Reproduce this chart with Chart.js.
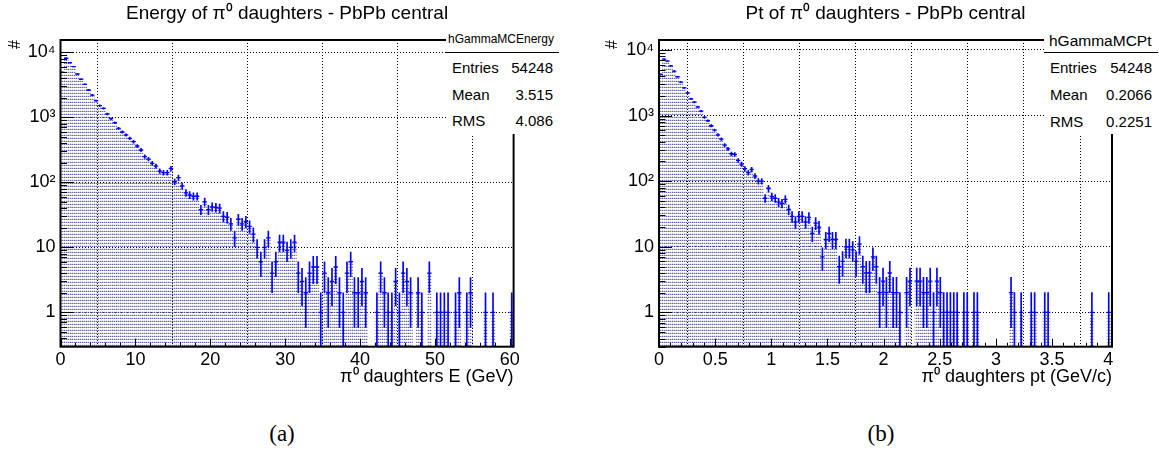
<!DOCTYPE html>
<html><head><meta charset="utf-8">
<script src="https://cdn.jsdelivr.net/npm/chart.js@4.4.1/dist/chart.umd.min.js"></script>
<style>
html,body{margin:0;padding:0;background:#fff}
body{width:1159px;height:454px;position:relative;overflow:hidden;font-family:'Liberation Sans',Arial,sans-serif;color:#000}
canvas{position:absolute;top:0}
.stat{position:absolute;background:#fff}
.stat div{position:absolute;white-space:nowrap}
.sep{height:1px;background:#000}
.row{font-size:15px;line-height:18px}
.lab{position:absolute;text-align:center;font-family:'Liberation Serif','Times New Roman',serif;font-size:23px;line-height:26px;width:60px}
</style></head><body>
<canvas id="cE" width="580" height="390" style="left:0"></canvas>
<canvas id="cP" width="579" height="390" style="left:580px"></canvas>

<div class="stat" style="left:446px;top:28px;width:114px;height:106px">
  <div style="left:2px;top:4px;font-size:12px;line-height:14px">hGammaMCEnergy</div>
  <div class="sep" style="left:0;top:24px;width:113px"></div>
  <div class="row" style="left:6px;top:30.7px">Entries</div><div class="row" style="right:7px;top:30.7px">54248</div>
  <div class="row" style="left:6px;top:58px">Mean</div><div class="row" style="right:7px;top:58px">3.515</div>
  <div class="row" style="left:6px;top:84px">RMS</div><div class="row" style="right:7px;top:84px">4.086</div>
</div>
<div class="stat" style="left:1044px;top:28px;width:115px;height:106px">
  <div style="left:5px;top:4px;font-size:15.5px;line-height:18px">hGammaMCPt</div>
  <div class="sep" style="left:0;top:24px;width:114px"></div>
  <div class="row" style="left:6px;top:30.7px">Entries</div><div class="row" style="right:7px;top:30.7px">54248</div>
  <div class="row" style="left:6px;top:58px">Mean</div><div class="row" style="right:7px;top:58px">0.2066</div>
  <div class="row" style="left:6px;top:84.7px">RMS</div><div class="row" style="right:7px;top:84.7px">0.2251</div>
</div>
<div class="lab" style="left:252px;top:421px">(a)</div>
<div class="lab" style="left:851px;top:421px">(b)</div>

<script>
// ---- data ----
const energyBinWidth = 0.5;   // GeV
const energyCounts = [
 4920,8090,6920,6010,4630,3850,3220,2630,2200,1800,
 1510,1375,1125,951,826,677,594,535,475,422,
 362,314,248,228,196,178,149,141,141,164,
 102,118,88,69,64,61,61,38,50,38,
 42,41,40,30,29,23,14,27,23,25,
 21,16,10,6,10,14,4,6,12,12,
 9,10,12,4,3,2,4,5,5,1,
 4,2,3,5,2,1,4,6,2,2,
 3,2,0,0,1,4,2,1,1,3,
 1,4,3,2,0,2,1,0,4,0,
 1,1,1,1,0,1,2,0,1,2,
 0,0,0,1,0,1,0,0,0,0,
 1];
const ptBinWidth = 0.03;      // GeV/c
const ptCounts = [
 4250,7260,6770,5740,4770,3910,3240,2650,2220,1800,
 1605,1360,1170,940,834,700,601,509,438,355,
 312,262,256,207,182,155,135,151,120,100,
 100,55,78,58,55,48,46,53,37,29,
 24,29,29,24,28,16,23,20,7,13,
 16,13,13,5,6,10,10,9,6,11,
 5,4,4,7,5,2,3,2,4,2,
 2,1,0,2,3,0,3,3,2,2,
 3,1,3,2,1,1,1,1,1,0,
 1,1,0,1,1,0,0,0,0,0,
 0,0,0,0,2,1,0,1,0,0,
 1,1,0,0,1,1,0,0,0,0,
 0,0,0,0,0,0,0,0,1,0,
 0,0,0,1];
const energyTickValues = [0,10,20,30,40,50,60];
const energyTickLabels = ['0','10','20','30','40','50','60'];
const ptTickValues = [0,0.5,1,1.5,2,2.5,3,3.5,4];
const ptTickLabels = ['0','0.5','1','1.5','2','2.5','3','3.5','4'];
const yTickValues = [1,10,100,1000,10000];
const yTickLabels = ['1','10','10\u00B2','10\u00B3','10\u2074'];

// ---- drawing ----
const FONT = "'Liberation Sans', Arial, sans-serif";
function makePattern(ctx){
  const pc = document.createElement('canvas');
  pc.width = 2; pc.height = 3;
  const c = pc.getContext('2d');
  c.fillStyle = 'rgba(75,80,170,0.85)'; c.fillRect(0,0,1,1);
  c.fillStyle = 'rgba(100,100,160,0.4)'; c.fillRect(1,0,1,1);
  c.fillStyle = 'rgba(110,110,140,0.2)'; c.fillRect(0,2,1,1);
  return ctx.createPattern(pc,'repeat');
}

const rootAxes = {
  id: 'rootAxes',
  afterDatasetsDraw(chart, args, o) {
    const {ctx, chartArea: a} = chart;
    const xs = chart.scales.x, ys = chart.scales.y;
    ctx.save();
    ctx.strokeStyle = '#000';
    ctx.lineWidth = 1;
    ctx.beginPath();
    const n = Math.floor((xs.max - xs.min) / o.xMinorStep + 1e-6);
    for (let i = 0; i <= n; i++) {
      const v = xs.min + i * o.xMinorStep;
      const px = Math.round(xs.getPixelForValue(v)) + 0.5;
      const r = v / o.xMajorStep;
      const len = Math.abs(r - Math.round(r)) < 1e-6 ? o.xMajorLen : o.xMinorLen;
      ctx.moveTo(px, a.bottom); ctx.lineTo(px, a.bottom - len);
    }
    for (let d = -1; d <= 5; d++) for (let k = 1; k <= 9; k++) {
      const v = k * Math.pow(10, d);
      if (v < ys.min || v > ys.max) continue;
      const py = Math.round(ys.getPixelForValue(v)) + 0.5;
      ctx.moveTo(a.left, py); ctx.lineTo(a.left + (k === 1 ? o.yMajorLen : o.yMinorLen), py);
    }
    ctx.stroke();
    ctx.lineWidth = 2;
    ctx.strokeRect(a.left, a.top, a.right - a.left, a.bottom - a.top);
    ctx.restore();
  }
};

function build(id, p) {
  const canvas = document.getElementById(id);
  const ctx = canvas.getContext('2d');
  const fill = [], errs = [], marks = [];
  p.counts.forEach((c, i) => {
    if (!c) return;
    const x = (i + 0.5) * p.binWidth;
    const e = Math.sqrt(c);
    fill.push({x, y: [p.ymin, c]});
    errs.push({x, y: [Math.max(p.ymin, c - e), c + e]});
    marks.push({x, y: c});
  });
  return new Chart(ctx, {
    type: 'bar',
    data: { datasets: [
      { type: 'bar', data: fill, backgroundColor: makePattern(ctx), borderWidth: 0,
        barPercentage: 1, categoryPercentage: 1, grouped: false, order: 3 },
      { type: 'bar', data: errs, backgroundColor: '#0000ff', borderWidth: 0,
        barThickness: 1, grouped: false, order: 2 },
      { type: 'line', data: marks, showLine: false, pointStyle: 'line', pointRadius: 2.2,
        pointBorderColor: '#0000ff', pointBorderWidth: 1.3, order: 1 }
    ]},
    options: {
      responsive: false, animation: false, events: [],
      layout: { padding: { left: 0, right: p.padRight, top: 0, bottom: 0 } },
      plugins: {
        legend: { display: false }, tooltip: { enabled: false },
        title: { display: true, text: p.title, fullSize: false, color: '#000',
          font: { family: FONT, size: 19, weight: 'normal', lineHeight: 1.2 },
          padding: { top: 2.6, bottom: 14.6 } },
        rootAxes: { xMinorStep: p.xMinorStep, xMajorStep: p.xMajorStep, xMajorLen: 8, xMinorLen: 4,
          yMajorLen: 13, yMinorLen: 6.5 }
      },
      scales: {
        x: { type: 'linear', min: 0, max: p.xmax, offset: false, bounds: 'data',
          afterBuildTicks: s => { s.ticks = p.tickValues.map(v => ({value: v})); },
          afterFit: s => { s.height = 43.3; },
          ticks: { autoSkip: false, maxRotation: 0, padding: 2.5, color: '#000',
            font: { family: FONT, size: 18 },
            callback: (v, i) => p.tickLabels[i] },
          grid: { drawTicks: false, color: '#000', lineWidth: 1 },
          border: { display: false, dash: [1, 2] },
          title: { display: true, text: p.xTitle, align: 'end', color: '#000',
            font: { family: FONT, size: 18 }, padding: { top: 0, bottom: 2.2 } } },
        y: { type: 'logarithmic', min: p.ymin, max: p.ymax, bounds: 'data',
          afterBuildTicks: s => { s.ticks = yTickValues.map(v => ({value: v})); },
          afterFit: s => { s.width = p.yWidth; },
          ticks: { autoSkip: false, padding: 5, color: '#000',
            font: { family: FONT, size: 18 },
            callback: (v, i) => yTickLabels[i] },
          grid: { drawTicks: false, color: '#000', lineWidth: 1 },
          border: { display: false, dash: [1, 2] },
          title: { display: true, text: '#', align: 'end', color: '#000',
            font: { family: FONT, size: 16 }, padding: { top: p.yTitlePad, bottom: 0 } } }
      }
    },
    plugins: [rootAxes]
  });
}

build('cE', { counts: energyCounts, binWidth: energyBinWidth, xmax: 60.5,
  ymin: 0.296, ymax: 15450, yWidth: 60.5, padRight: 66.4, yTitlePad: 6,
  tickValues: energyTickValues, tickLabels: energyTickLabels, xMinorStep: 2, xMajorStep: 10,
  title: 'Energy of \u03C0\u2070 daughters - PbPb central', xTitle: '\u03C0\u2070 daughters E (GeV)' });
build('cP', { counts: ptCounts, binWidth: ptBinWidth, xmax: 4.034,
  ymin: 0.30, ymax: 14200, yWidth: 79, padRight: 47, yTitlePad: 23.4,
  tickValues: ptTickValues, tickLabels: ptTickLabels, xMinorStep: 0.1, xMajorStep: 0.5,
  title: 'Pt of \u03C0\u2070 daughters - PbPb central', xTitle: '\u03C0\u2070 daughters pt (GeV/c)' });
</script>
</body></html>
